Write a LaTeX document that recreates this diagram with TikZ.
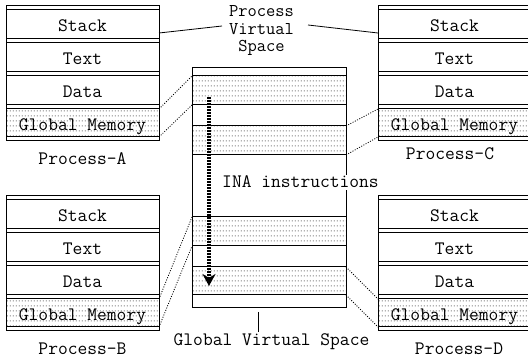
\documentclass[tikz,border=0pt]{standalone}
\usepackage{fontspec}
\usetikzlibrary{patterns,arrows.meta}
\pgfdeclarepatternformonly{gdots}{\pgfpointorigin}{\pgfpoint{3pt}{5pt}}{\pgfpoint{3pt}{5pt}}{\pgfpathrectangle{\pgfpoint{1pt}{2pt}}{\pgfpoint{1.1pt}{1.1pt}}\pgfusepath{fill}}
\tikzset{
  lbl/.style={font=\ttfamily\fontsize{19}{17}\selectfont, inner sep=0pt, anchor=base},
  dotshade/.style={pattern=gdots, pattern color=black!70},
  box/.style={draw=black, line width=1pt},
  conn/.style={draw, line width=0.8pt, dash pattern=on 1pt off 1.5pt},
  lead/.style={draw, line width=0.8pt},
  ina/.style={line width=3.5pt, dash pattern=on 2pt off 1pt, -{Stealth[length=12pt,width=13pt]}}
}
\newcommand\procblk[3]{%
  \begin{scope}[shift={(#2,#3)}]
    \fill[dotshade] (0,103) rectangle (153,131);
    \draw[box] (0,0) rectangle (153,135);
    \foreach \yy in {4,33,37,66,70,99,103,131} \draw[box] (0,\yy) -- (153,\yy);
    \node[lbl] (#1-s) at (76.5,26) {Stack};
    \node[lbl] (#1-t) at (76.5,59) {Text};
    \node[lbl] (#1-d) at (76.5,92) {Data};
    \node[lbl] (#1-g) at (76.5,125) {Global Memory};
    \coordinate (#1-gtr) at (153,103);
    \coordinate (#1-gbr) at (153,131);
    \coordinate (#1-gtl) at (0,103);
    \coordinate (#1-gbl) at (0,131);
    \coordinate (#1-str) at (153,27);
    \coordinate (#1-stl) at (0,27);
  \end{scope}}
\begin{document}
\begin{tikzpicture}[x=1pt,y=-1pt]
\useasboundingbox (0,0) rectangle (528,358);
\clip (0,0) rectangle (528,358);
\procblk{A}{6}{6}
\procblk{B}{6}{196}
\procblk{C}{378}{6}
\procblk{D}{378}{196}
\node[lbl] (pa) at (82.5,165) {Process-A};
\node[lbl] (pb) at (82.5,355) {Process-B};
\node[lbl] (pc) at (450,160) {Process-C};
\node[lbl] (pd) at (459,355) {Process-D};
% central global virtual space
\foreach \ya/\yb in {76/105,126/155,217/246,267/295} \fill[dotshade] (192,\ya) rectangle (346,\yb);
\draw[box] (192,68) rectangle (346,308);
\foreach \yy in {76,105,126,155,217,246,267,295} \draw[box] (192,\yy) -- (346,\yy);
\coordinate (g1t) at (192,76);
\coordinate (g1b) at (192,105);
\coordinate (g2t) at (346,126);
\coordinate (g2b) at (346,155);
\coordinate (g3t) at (192,217);
\coordinate (g3b) at (192,246);
\coordinate (g4t) at (346,267);
\coordinate (g4b) at (346,295);
\draw[conn] (A-gtr) -- (g1t);
\draw[conn] (A-gbr) -- (g1b);
\draw[conn] (B-gtr) -- (g3t);
\draw[conn] (B-gbr) -- (g3b);
\draw[conn] (g2t) -- (C-gtl);
\draw[conn] (g2b) -- (C-gbl);
\draw[conn] (g4t) -- (D-gtl);
\draw[conn] (g4b) -- (D-gbl);
% process virtual space label
\node[font=\ttfamily\fontsize{18}{17.5}\selectfont, inner sep=0pt, align=center] (pvs) at (261.5,31) {Process\\Virtual\\Space};
\coordinate (pvl) at (222,26);
\coordinate (pvr) at (308,25);
\draw[lead] (A-str) -- (pvl);
\draw[lead] (pvr) -- (C-stl);
% global virtual space label
\node[lbl] (gvs) at (271.5,346) {Global Virtual Space};
\coordinate (gtk1) at (258,312);
\coordinate (gtk2) at (258,332);
\draw[lead] (gtk1) -- (gtk2);
% INA instructions
\node[lbl, fill=white, inner sep=1.5pt] (inat) at (300.5,188) {INA instructions};
\coordinate (inas) at (209,97);
\coordinate (inae) at (209,286);
\draw[ina] (inas) -- (inae);
\end{tikzpicture}
\end{document}
